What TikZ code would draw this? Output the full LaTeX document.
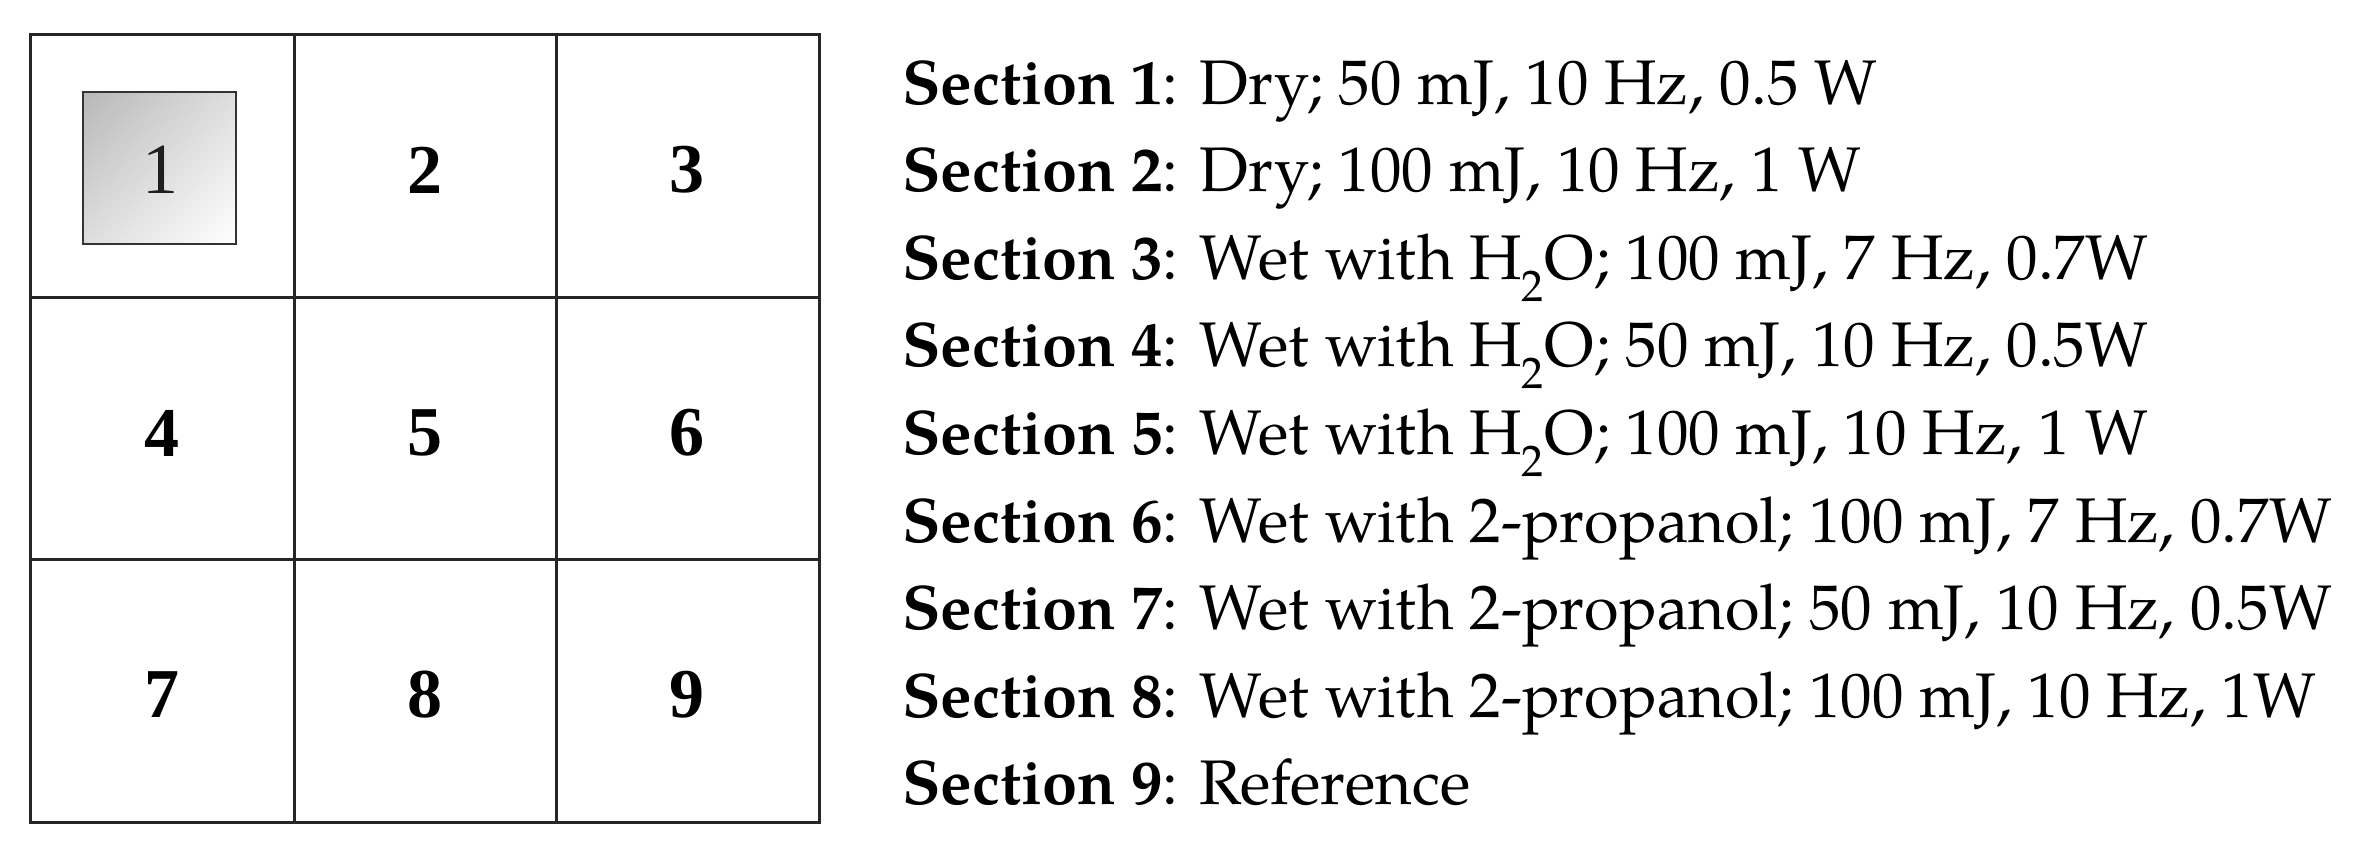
\documentclass[tikz,border=0pt]{standalone}
\usepackage{fontspec}
\usetikzlibrary{shadings}
\setmainfont{texgyrepagella}[Extension=.otf,UprightFont=*-regular,BoldFont=*-bold,ItalicFont=*-italic,BoldItalicFont=*-bolditalic]
\newfontfamily\timesf{Liberation Serif}
\begin{document}
\begin{tikzpicture}[x=1pt,y=-1pt,
  gridline/.style={line width=3pt,black!85},
  cellnum/.style={font=\timesf\bfseries\fontsize{70}{70}\selectfont,inner sep=0pt},
  secline/.style={anchor=base west,inner sep=0pt,font=\fontsize{63}{80}\selectfont}]
\useasboundingbox (0,0) rectangle (2361,867);
% shaded box in cell 1
\shade[upper left=black!28,upper right=black!13,lower left=black!13,lower right=white] (83,92) rectangle (236,244);
\draw[line width=2.2pt,black!80] (83,92) rectangle (236,244);
% grid
\draw[gridline] (30,35) rectangle (819,822);
\draw[gridline] (294,35) -- (294,822);
\draw[gridline] (556,35) -- (556,822);
\draw[gridline] (30,297) -- (819,297);
\draw[gridline] (30,559) -- (819,559);
% numbers
\node[cellnum,font=\timesf\fontsize{72}{72}\selectfont,text=black!88] (n1) at (160,170) {1};
\node[cellnum] (n2) at (425,170) {2};
\node[cellnum] (n3) at (687,170) {3};
\node[cellnum] (n4) at (162,433) {4};
\node[cellnum] (n5) at (425,433) {5};
\node[cellnum] (n6) at (687,433) {6};
\node[cellnum] (n7) at (162,695) {7};
\node[cellnum] (n8) at (425,695) {8};
\node[cellnum] (n9) at (687,695) {9};
% legend
\node[secline] (s1) at (902,104) {\textbf{Section 1}: Dry; 50 mJ, 10 Hz, 0.5 W};
\node[secline] (s2) at (902,191.6) {\textbf{Section 2}: Dry; 100 mJ, 10 Hz, 1 W};
\node[secline] (s3) at (902,279.2) {\textbf{Section 3}: Wet with H\textsubscript{2}O; 100 mJ, 7 Hz, 0.7W};
\node[secline] (s4) at (902,366.8) {\textbf{Section 4}: Wet with H\textsubscript{2}O; 50 mJ, 10 Hz, 0.5W};
\node[secline] (s5) at (902,454.4) {\textbf{Section 5}: Wet with H\textsubscript{2}O; 100 mJ, 10 Hz, 1 W};
\node[secline] (s6) at (902,542) {\textbf{Section 6}: Wet with 2-propanol; 100 mJ, 7 Hz, 0.7W};
\node[secline] (s7) at (902,629.6) {\textbf{Section 7}: Wet with 2-propanol; 50 mJ, 10 Hz, 0.5W};
\node[secline] (s8) at (902,717.2) {\textbf{Section 8}: Wet with 2-propanol; 100 mJ, 10 Hz, 1W};
\node[secline] (s9) at (902,804.8) {\textbf{Section 9}: Reference};
\end{tikzpicture}
\end{document}
